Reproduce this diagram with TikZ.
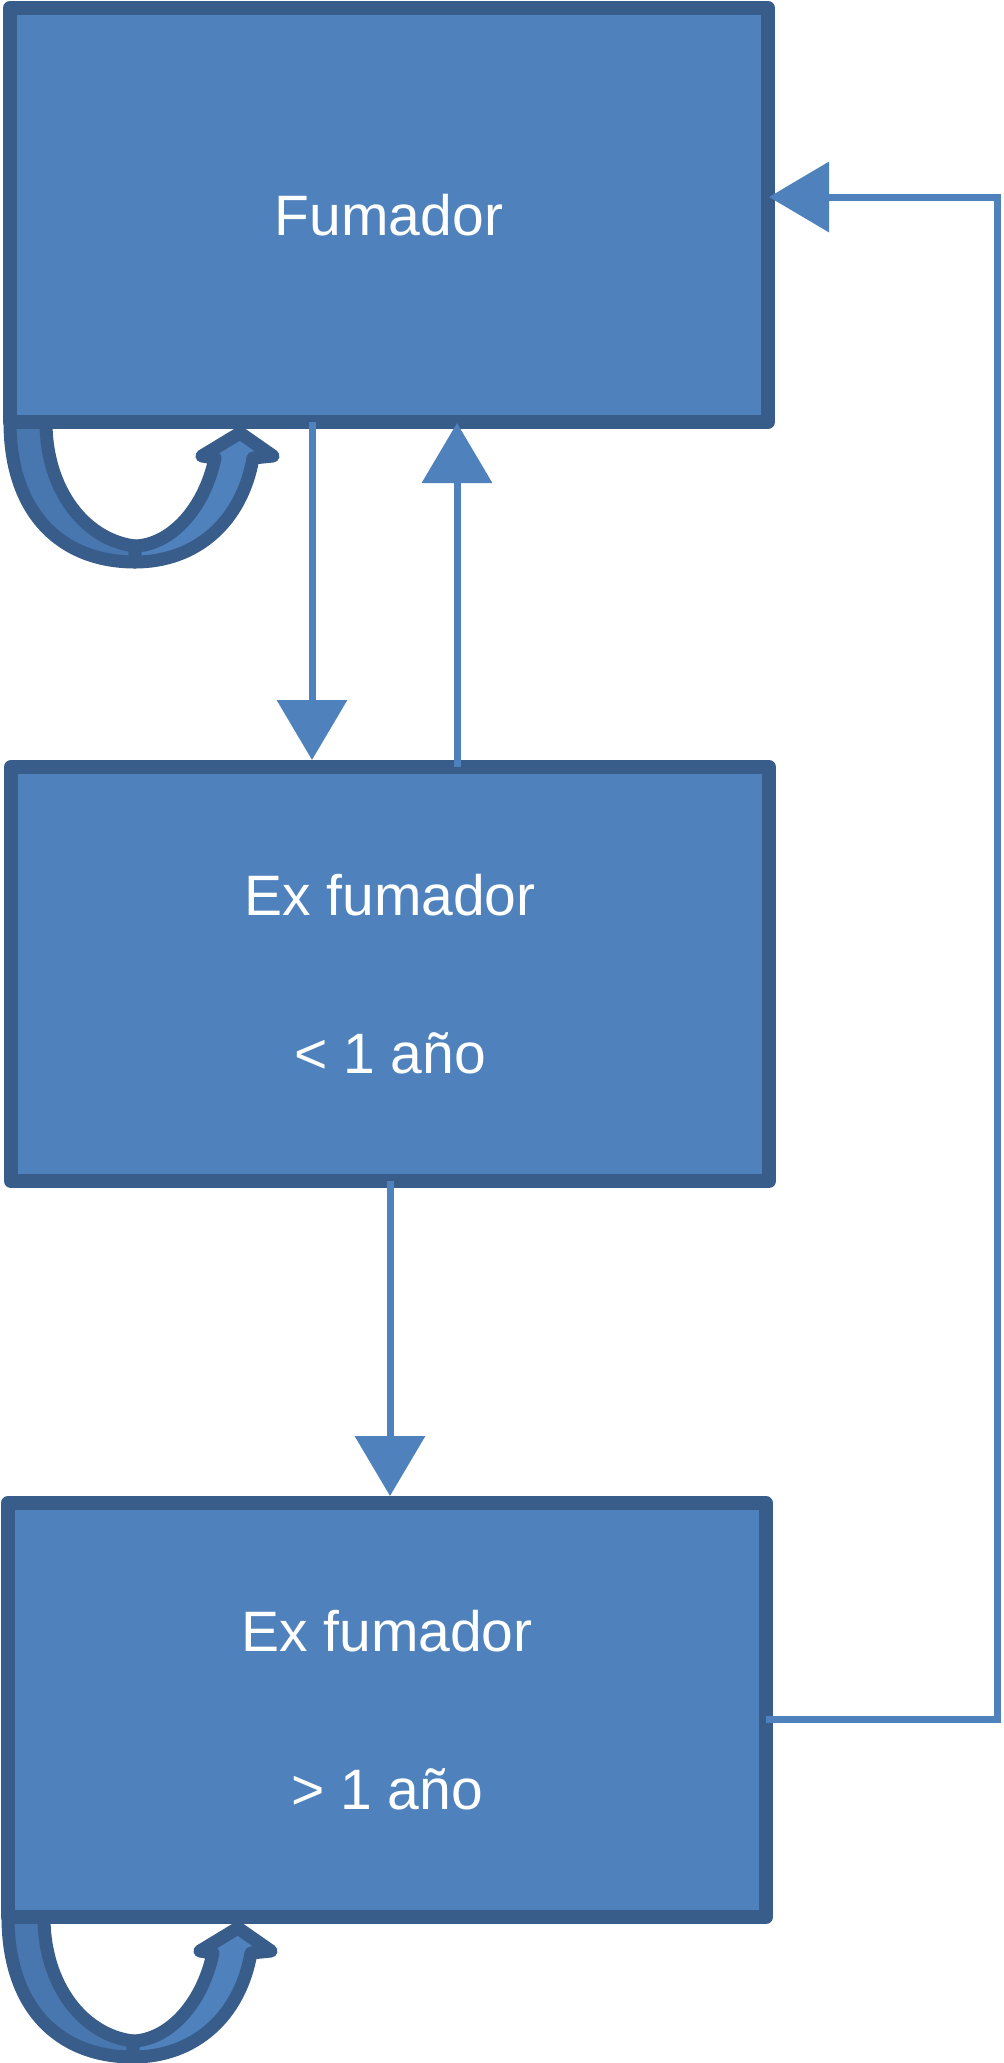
\documentclass[tikz,border=0pt]{standalone}
\usepackage{fontspec}
\setmainfont{Liberation Sans}
\usetikzlibrary{arrows.meta,backgrounds}

\definecolor{boxfill}{HTML}{4F81BD}
\definecolor{boxline}{HTML}{385D8A}
\definecolor{bandfill}{HTML}{4876AE}

\tikzset{
  estado/.style={draw=boxline, fill=boxfill, line width=7pt, line join=round,
    minimum width=379pt, minimum height=207pt, text=white, align=center,
    font=\fontsize{28.5}{79}\selectfont},
  flecha/.style={draw=boxfill, line width=3.5pt, -{Triangle[width=34.5pt,length=30pt]}},
  banda/.style={draw=boxline, line width=6.5pt, line join=round},
  pics/bucle/.style={code={
    % parte de atras
    \draw[banda, fill=bandfill] (7,-7) .. controls (7,84) and (58,133) .. (132,133)
      -- (132,117) .. controls (82,111) and (43,61) .. (43,-7) -- cycle;
    % parte de delante con la punta
    \draw[banda, fill=boxfill] (132,133) .. controls (194,133) and (239,92) .. (250,29)
      -- (270,27) -- (237,4) -- (199,27) -- (212,29)
      .. controls (201,81) and (167,116) .. (132,117) -- cycle;
  }}
}

\begin{document}
\begin{tikzpicture}[x=0.5pt,y=-0.5pt]
  \useasboundingbox (0,0) rectangle (1004,2063);

  \node[estado] (fum) at (389,215) {Fumador};
  \node[estado] (exa) at (390,974) {Ex fumador\\< 1 año};
  \node[estado] (exb) at (387,1710) {Ex fumador\\> 1 año};

  \begin{scope}[on background layer]
    \pic at (fum.south west) {bucle};
    \pic at (exb.south west) {bucle};
  \end{scope}

  \draw[flecha] ([xshift=-38.5pt,yshift=3.5pt]fum.south) -- ([xshift=-39pt]exa.north);
  \draw[flecha] ([xshift=33.5pt,yshift=-3.5pt]exa.north) -- ([xshift=34pt,yshift=3pt]fum.south);
  \draw[flecha] ([yshift=3.5pt]exa.south) -- (exa.south |- exb.north);
  \draw[flecha] ([xshift=-3.5pt,yshift=-4.5pt]exb.east) -- ++(231,0) |- ([xshift=-3pt,yshift=9pt]fum.east);
\end{tikzpicture}
\end{document}
